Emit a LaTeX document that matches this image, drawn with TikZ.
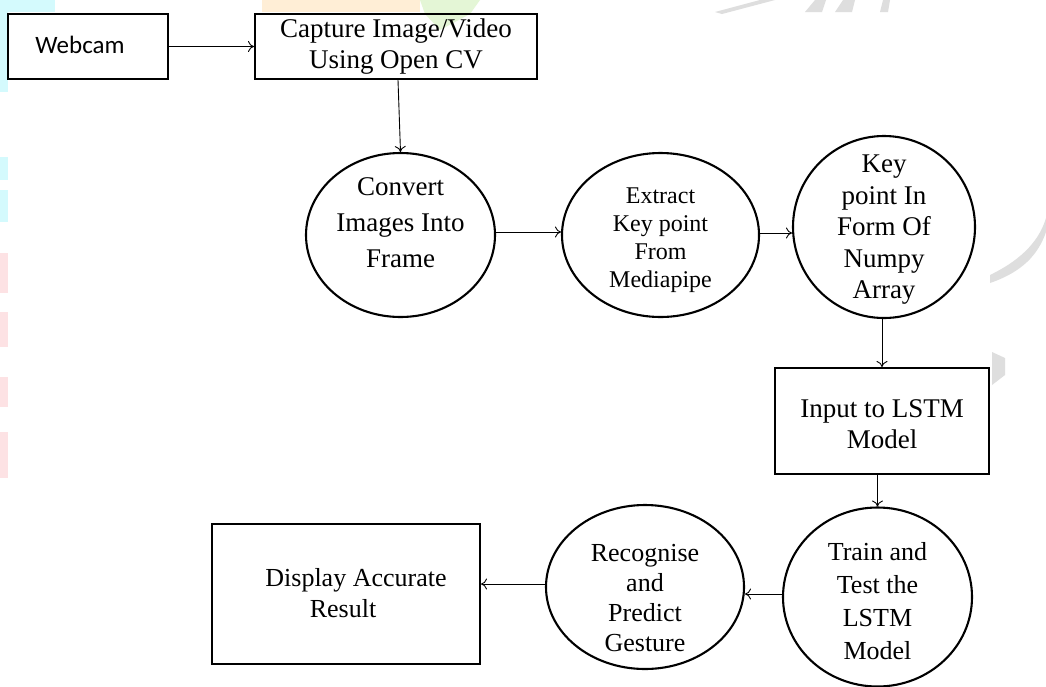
\documentclass[tikz,border=0pt]{standalone}
\usepackage{fontspec}
\setmainfont{Liberation Serif}
\newfontfamily\sansbody{Carlito}
\usetikzlibrary{shapes.geometric,arrows.meta}

\definecolor{wmcyan}{RGB}{212,250,253}
\definecolor{wmpink}{RGB}{253,226,228}
\definecolor{wmorange}{RGB}{255,238,214}
\definecolor{wmgreen}{RGB}{228,246,214}
\definecolor{wmgrey}{RGB}{222,222,222}

\begin{document}
\begin{tikzpicture}[x=1pt,y=-1pt,
  box/.style={draw,line width=2.1pt,inner sep=0pt,align=center},
  oval/.style={draw,ellipse,line width=2.1pt,inner sep=0pt},
  label/.style={align=center,inner sep=0pt},
  flow/.style={line width=0.9pt,-{To[length=6pt,width=11pt]}},
]
\useasboundingbox (0,0) rectangle (1046,686);
\fill[white] (0,0) rectangle (1046,686);

% faint background marks along the edges
\fill[wmcyan] (0,0) rectangle (55,12);
\fill[wmcyan] (0,0) rectangle (8,92);
\fill[wmcyan] (0,157) rectangle (8,180);
\fill[wmcyan] (0,190) rectangle (8,222);
\fill[wmpink] (0,253) rectangle (8,293);
\fill[wmpink] (0,312) rectangle (8,347);
\fill[wmpink] (0,377) rectangle (8,407);
\fill[wmpink] (0,432) rectangle (8,478);
\fill[wmorange] (262,0) rectangle (420,12);
\fill[wmgreen] (420,0) -- (480,0) -- (470,14) -- (440,30) -- (425,14) -- cycle;
\fill[wmgrey] (715,12) -- (760,0) -- (775,0) -- (722,14) -- cycle;
\fill[wmgrey] (805,12) -- (815,0) -- (826,0) -- (822,12) -- cycle;
\fill[wmgrey] (835,12) -- (843,0) -- (855,0) -- (852,12) -- cycle;
\fill[wmgrey] (880,12) -- (883,0) -- (890,0) -- (888,12) -- cycle;
\fill[wmgrey] (990,275) .. controls (1025,258) and (1040,238) .. (1046,218) -- (1046,232) .. controls (1038,255) and (1022,272) .. (990,283) -- cycle;
\fill[wmgrey] (992,352) -- (992,385) -- (1005,375) -- (1005,358) -- cycle;

% process boxes
\node[box,minimum width=160pt,minimum height=65pt] (webcam) at (88,46.5) {};
\node[label,font=\sansbody\fontsize{25}{30}\selectfont] (webcamtxt) at (80,45) {Webcam};

\node[box,minimum width=282pt,minimum height=65pt] (capture) at (396,46.5) {};
\node[label,font=\fontsize{27}{31}\selectfont] (capturetxt) at (396,46.5) {Capture Image/Video\\Using Open CV};

\node[box,minimum width=214pt,minimum height=106pt] (input) at (882,421) {};
\node[label,font=\fontsize{27}{31.5}\selectfont] (inputtxt) at (882,424) {Input to LSTM\\Model};

\node[box,minimum width=268pt,minimum height=140pt] (display) at (346,594) {};
\node[label,font=\fontsize{26}{31}\selectfont] (displaytxt) at (356,593) {Display Accurate\\Result\rule{26pt}{0pt}};

% process ellipses
\node[oval,minimum width=189pt,minimum height=164pt] (convert) at (400.5,235) {};
\node[label,font=\fontsize{27}{36}\selectfont] (converttxt) at (400.5,223) {Convert\\Images Into\\Frame};

\node[oval,minimum width=197pt,minimum height=164pt] (extract) at (660.5,235) {};
\node[label,font=\fontsize{24}{28}\selectfont] (extracttxt) at (660.5,240) {Extract\\Key point\\From\\Mediapipe};

\node[oval,minimum width=182pt,minimum height=182pt] (keypt) at (884,227) {};
\node[label,font=\fontsize{27}{31.5}\selectfont] (keypttxt) at (884,230) {Key\\point In\\Form Of\\Numpy\\Array};

\node[oval,minimum width=189pt,minimum height=179pt] (train) at (877.5,597) {};
\node[label,font=\fontsize{26}{33}\selectfont] (traintxt) at (877.5,601) {Train and\\Test the\\LSTM\\Model};

\node[oval,minimum width=198pt,minimum height=164pt] (recog) at (645,587) {};
\node[label,font=\fontsize{26}{30}\selectfont] (recogtxt) at (645,598) {Recognise\\and\\Predict\\Gesture};

% connectors
\draw[flow] (webcam.east) -- (capture.west |- webcam.east);
\draw[flow] ([xshift=2pt]capture.south) -- (convert.north);
\draw[flow] ([yshift=3pt]convert.east) -- ([yshift=3pt]convert.east -| extract.west);
\draw[flow] ([yshift=2pt]extract.east) -- ([yshift=2pt]extract.east -| keypt.west);
\draw[flow] ([xshift=-2pt]keypt.south) -- ([xshift=-2pt]keypt.south |- input.north);
\draw[flow] (input.south -| train.north) -- (train.north);
\draw[flow] ([yshift=3pt]train.west) -- ([yshift=3pt]train.west -| recog.east);
\draw[flow] ([yshift=3pt]recog.west) -- ([yshift=3pt]recog.west -| display.east);
\end{tikzpicture}
\end{document}
